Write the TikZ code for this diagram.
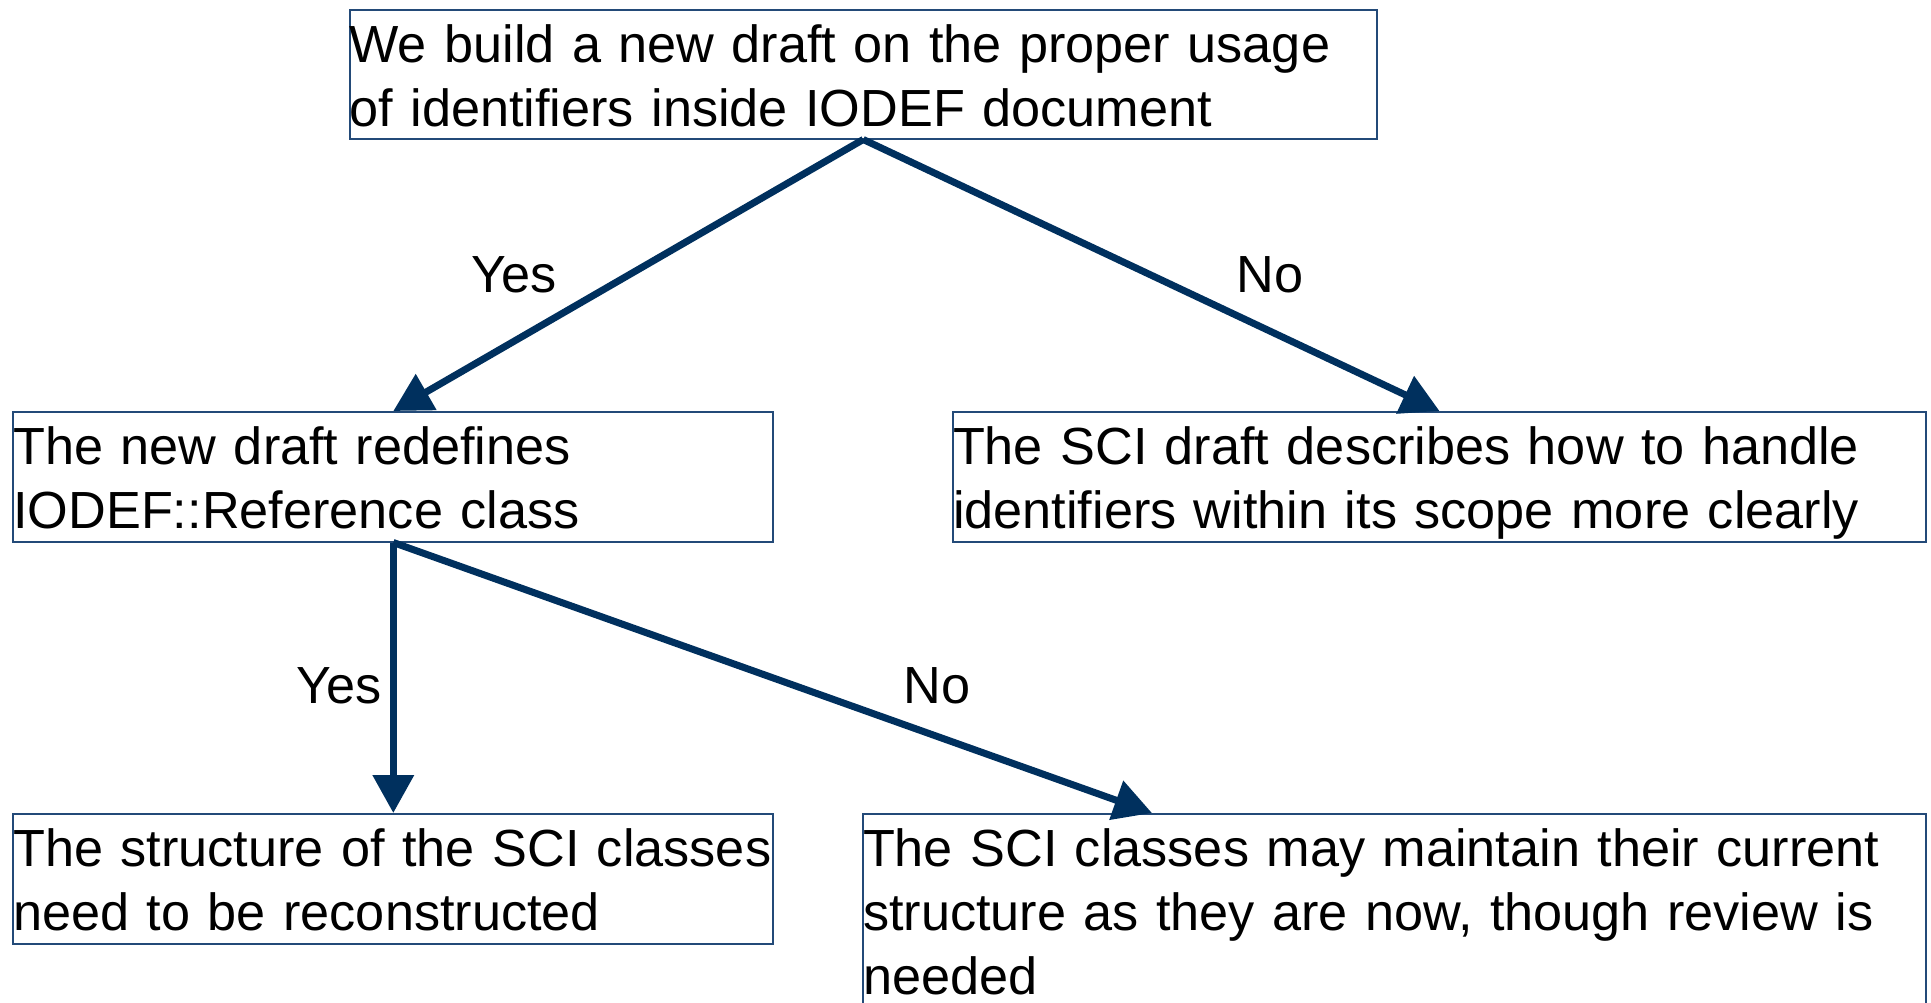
\documentclass[tikz,border=0pt]{standalone}
\usepackage{fontspec}
\setmainfont{Liberation Sans}
\usetikzlibrary{positioning, arrows.meta, calc}
\newlength{\px}
\setlength{\px}{0.4pt}
\definecolor{navy}{HTML}{00305E}
\definecolor{framecol}{HTML}{234A78}

\begin{document}
\begin{tikzpicture}[x=\px, y=-\px,
    every node/.style={font=\fontsize{20.9}{25.6}\selectfont},
    box/.style={draw=framecol, line width=0.8pt, anchor=north west, inner xsep=0pt, inner ysep=0pt,
                align=left, text width=#1, text height=20.8pt},
    flow/.style={draw=navy, line width=2.8pt, -{Triangle[width=16pt, length=15.2pt]}},
    lbl/.style={anchor=base},
]
\useasboundingbox (0,0) rectangle (1931,1002);

% Question at the top
\node[box=1027.5\px, text depth=76.5\px] (draft) at (348.5,9)
    {We build a new draft on the proper usage\\of identifiers inside IODEF document};

% Second level
\node[box=760\px, text depth=77.5\px] (redef) at (12.3,411)
    {The new draft redefines\\IODEF::Reference class};
\node[box=973\px, text depth=77.5\px] (scidraft) at (952,411)
    {The SCI draft describes how to handle\\identifiers within its scope more clearly};

% Third level (last box runs past the bottom edge)
\node[box=760\px, text depth=78\px] (rebuild) at (12.3,813)
    {The structure of the SCI classes\\need to be reconstructed};
\node[box=1063\px, text depth=148\px] (keep) at (862,813)
    {The SCI classes may maintain their current\\structure as they are now, though review is\\needed};

% Arrows
\draw[flow] (draft.south) -- (redef.north);
\draw[flow] (draft.south) -- (scidraft.north);
\draw[flow] (redef.south) -- (rebuild.north);
\draw[flow] (redef.south) -- ([xshift=-97pt]keep.north);

% Yes / No labels
\node[lbl] (yesA) at (514,292) {Yes};
\node[lbl] (noA) at (1270,292) {No};
\node[lbl] (yesB) at (339,703) {Yes};
\node[lbl] (noB) at (937,703) {No};

\end{tikzpicture}
\end{document}
